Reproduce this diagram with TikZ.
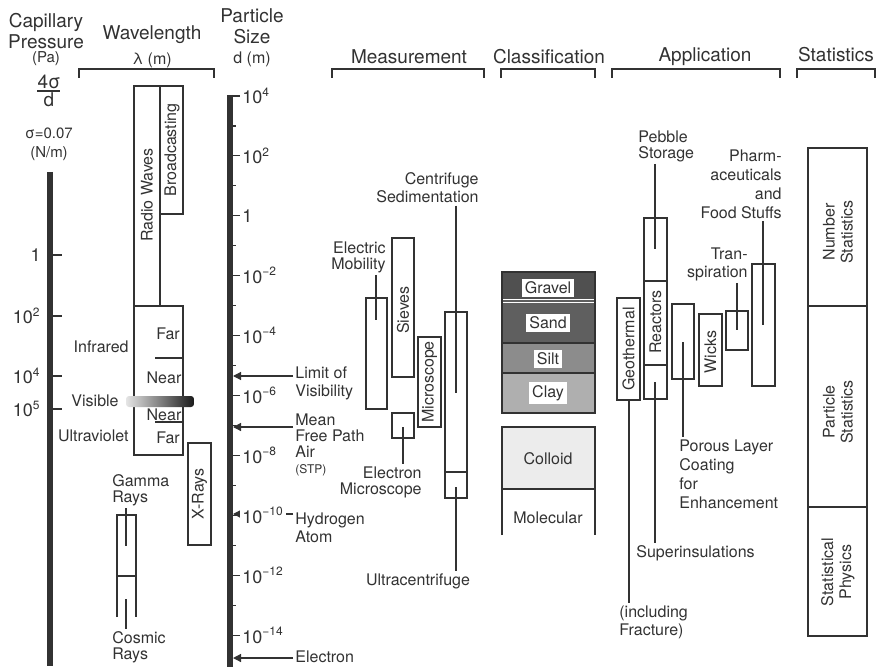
\documentclass[tikz,border=0pt]{standalone}
\usepackage{fontspec}
\setmainfont{TeX Gyre Heros}
\usetikzlibrary{arrows.meta,positioning,calc}
\definecolor{inkgray}{RGB}{50,50,50}
\definecolor{gravelgray}{RGB}{80,80,80}
\definecolor{sandgray}{RGB}{95,95,95}
\definecolor{siltgray}{RGB}{140,140,140}
\definecolor{claygray}{RGB}{175,175,175}
\definecolor{colloidgray}{RGB}{236,236,236}

\tikzset{
  lbl/.style={font=\fontsize{8}{9}\selectfont, inner sep=1pt, align=center, text=inkgray},
  tight/.style={lbl, font=\fontsize{8}{8}\selectfont},
  head/.style={lbl, font=\fontsize{9.5}{10.5}\selectfont},
  small/.style={lbl, font=\fontsize{7.5}{9.5}\selectfont},
  tick/.style={lbl, font=\fontsize{9}{10}\selectfont},
  bx/.style={draw=inkgray, line width=0.6pt},
  ptr/.style={draw=inkgray, line width=0.6pt, -{Triangle[length=4pt,width=4pt]}},
  brk/.style={draw=inkgray, line width=0.7pt},
  axis/.style={draw=inkgray, line width=2.6pt},
}

\begin{document}
\begin{tikzpicture}[x=0.5pt,y=-0.5pt]
\useasboundingbox (0,0) rectangle (882,668);

% column heads
\node[head] (hcap) at (46,31) {Capillary\\Pressure};
\node[small] (hpa) at (46,59) {(Pa)};
\node[head] (hwave) at (152,35) {Wavelength};
\node[lbl] (hlam) at (152,60) {λ (m)};
\node[head] (hsize) at (252,26) {Particle\\Size};
\node[lbl] (hdm) at (252,59) {d (m)};
\node[head] (hmeas) at (409,57) {Measurement};
\node[head] (hclass) at (549,57) {Classification};
\node[head] (happ) at (705,57) {Application};
\node[head] (hstat) at (836,55) {Statistics};
\foreach \a/\b in {79/214,332/484,501/595,612/780,797/875}
  \draw[brk] (\a,78) -- (\a,69) -- (\b,69) -- (\b,78);

% capillary pressure scale
\node[head] (fnum) at (49,82) {4σ};
\draw[brk] (37,91) -- (60,91);
\node[head] (fden) at (49,100) {d};
\node[small] (sigma) at (49,144) {σ=0.07\\(N/m)};
\draw[axis] (50,172) -- (50,666);
\foreach \y/\t in {255/1,316/10\textsuperscript{2},376/10\textsuperscript{4},409/10\textsuperscript{5}}{
  \draw[bx] (50,\y) -- (62,\y);
  \node[tick, anchor=east] (p\y) at (43,\y) {\t};
}

% pointers to particle size scale
\node[lbl, align=left, anchor=west] (limvis) at (293,383) {Limit of\\Visibility};
\coordinate (limtip) at (233,376);
\draw[ptr] (limtip -| limvis.west) -- (limtip);
\node[tight, align=left, anchor=west] (mfp) at (293,445) {Mean\\Free Path\\Air\\{\fontsize{6}{7}\selectfont(STP)}};
\coordinate (mfptip) at (233,427);
\draw[ptr] (mfptip -| mfp.west) -- (mfptip);
\node[lbl, align=left, anchor=west] (hyd) at (293,528) {Hydrogen\\Atom};
\coordinate (hydtip) at (233,514);
\draw[ptr] (hydtip -| hyd.west) -- (hydtip);
\node[lbl, anchor=west] (elec) at (293,657) {Electron};
\coordinate (electip) at (233,658);
\draw[ptr] (electip -| elec.west) -- (electip);

% particle size scale
\draw[axis] (230,95) -- (230,667);
\foreach \k in {0,...,8}{
  \pgfmathsetmacro\yy{126+59.9*\k}
  \draw[bx] (230,\yy) -- (236,\yy);
}
\foreach \t [count=\k from 0] in {10\textsuperscript{4},10\textsuperscript{2},1,10\textsuperscript{−2},10\textsuperscript{−4},10\textsuperscript{−6},10\textsuperscript{−8},10\textsuperscript{−10},10\textsuperscript{−12},10\textsuperscript{−14}}{
  \pgfmathsetmacro\yy{96+59.9*\k}
  \draw[bx] (230,\yy) -- (240,\yy);
  \node[tick, anchor=west, fill=white] (d\k) at (240,\yy) {\t};
}

% wavelength
\draw[bx] (134,86) rectangle (160,306);
\draw[bx] (160,86) rectangle (183,214);
\node[lbl, rotate=90] (radio) at (147,195) {Radio Waves};
\node[lbl, rotate=90] (bcast) at (172,150) {Broadcasting};
\draw[bx] (134,306) rectangle (183,455);
\draw[bx] (155,358) -- (183,358);
\draw[bx] (155,422) -- (183,422);
\node[lbl] (irfar) at (168,334) {Far};
\node[lbl] (irnear) at (164,378) {Near};
\node[lbl] (uvnear) at (164,415) {Near};
\node[lbl] (uvfar) at (168,438) {Far};
\shade[left color=black!10, middle color=black!55, right color=black!90, rounded corners=1.5pt] (126,396) rectangle (194,407);
\node[lbl, anchor=east] (infra) at (131,347) {Infrared};
\node[lbl, anchor=east] (visib) at (121,401) {Visible};
\node[lbl, anchor=east] (ultra) at (131,436) {Ultraviolet};
\draw[bx] (188,443) rectangle (211,545);
\node[lbl, rotate=90] (xray) at (199.5,494) {X-Rays};
\node[tight, align=left, anchor=west] (gamma) at (110,490) {Gamma\\Rays};
\draw[bx] (117,617) -- (117,515) -- (136,515) -- (136,617);
\draw[bx] (117,576) -- (136,576);
\coordinate (gamend) at (126,546);
\draw[bx] (gamend |- gamma.south) -- (gamend);
\node[tight, align=left, anchor=west] (cosmic) at (110,647) {Cosmic\\Rays};
\coordinate (cosend) at (126,599);
\draw[bx] (cosend) -- (cosend |- cosmic.north);

% measurement
\node[tight, align=right, anchor=east] (emob) at (388,257) {Electric\\Mobility};
\draw[bx] (366,298) rectangle (387,409);
\coordinate (emobend) at (376,320);
\draw[bx] (emobend |- emob.south) -- (emobend);
\draw[bx] (392,238) rectangle (414,377);
\node[lbl, rotate=90] (sieve) at (403,310) {Sieves};
\draw[bx] (392,413) rectangle (414,438);
\node[tight, align=right, anchor=east] (emic) at (424,482) {Electron\\Microscope};
\coordinate (emicend) at (403,427);
\draw[bx] (emicend) -- (emicend |- emic.north);
\draw[bx] (418,337) rectangle (441,427);
\node[lbl, rotate=90] (micro) at (429.5,382) {Microscope};
\draw[bx] (445,312) rectangle (467,498);
\draw[bx] (445,472) -- (467,472);
\node[lbl, align=right, anchor=east] (csed) at (481,188) {Centrifuge\\Sedimentation};
\coordinate (csedend) at (456,393);
\draw[bx] (csedend |- csed.south) -- (csedend);
\node[lbl] (ucent) at (418,581) {Ultracentrifuge};
\coordinate (ucentend) at (456,487);
\draw[bx] (ucentend) -- (ucentend |- ucent.north);

% classification
\fill[gravelgray] (502,272) rectangle (595,299);
\fill[sandgray] (502,299) rectangle (595,343);
\fill[siltgray] (502,343) rectangle (595,373);
\fill[claygray] (502,373) rectangle (595,413);
\draw[white, line width=0.5pt] (502,299.5) -- (595,299.5);
\draw[white, line width=0.5pt] (502,302.5) -- (595,302.5);
\draw[inkgray, line width=0.8pt] (502,343) -- (595,343);
\draw[inkgray, line width=0.8pt] (502,373) -- (595,373);
\draw[inkgray, line width=1.2pt] (502,272) rectangle (595,413);
\node[lbl, fill=white, inner sep=1.5pt] (gravel) at (548,288) {Gravel};
\node[lbl, fill=white, inner sep=1.5pt] (sand) at (548,323) {Sand};
\node[lbl, fill=white, inner sep=1.5pt] (silt) at (548,359) {Silt};
\node[lbl, fill=white, inner sep=1.5pt] (clay) at (548,393) {Clay};
\fill[colloidgray] (502,427) rectangle (595,489);
\draw[inkgray, line width=1.2pt] (502,535) -- (502,427) -- (595,427) -- (595,535);
\draw[bx] (502,489) -- (595,489);
\node[lbl] (colloid) at (548,459) {Colloid};
\node[lbl] (molec) at (548,518) {Molecular};

% application
\draw[bx] (617,298) rectangle (640,400);
\node[lbl, rotate=90] (geo) at (628.5,349) {Geothermal};
\node[lbl, align=left, anchor=west] (fract) at (617,622) {(including\\Fracture)};
\coordinate (geoend) at (629,400);
\draw[bx] (geoend) -- (geoend |- fract.north);
\draw[bx] (644,218) rectangle (667,399);
\draw[bx] (644,281) -- (667,281);
\draw[bx] (644,365) -- (667,365);
\node[lbl, rotate=90] (react) at (655.5,322) {Reactors};
\node[tight, align=left, anchor=west] (pebble) at (636,146) {Pebble\\Storage};
\coordinate (pebend) at (655,249);
\draw[bx] (pebend |- pebble.south) -- (pebend);
\node[lbl, anchor=west] (insul) at (634,553) {Superinsulations};
\coordinate (insulend) at (655,382);
\draw[bx] (insulend) -- (insulend |- insul.north);
\draw[bx] (672,304) rectangle (694,379);
\node[lbl, font=\fontsize{8}{9.5}\selectfont, align=left, anchor=west] (porous) at (677,474) {Porous Layer\\Coating\\for\\Enhancement};
\coordinate (porend) at (683,342);
\draw[bx] (porend) -- (porend |- porous.north);
\draw[bx] (699,314) rectangle (722,386);
\node[lbl, rotate=90] (wicks) at (710.5,352) {Wicks};
\draw[bx] (726,311) rectangle (748,350);
\node[lbl, align=right, anchor=east] (transp) at (750,264) {Tran-\\spiration};
\coordinate (transpend) at (737,330);
\draw[bx] (transpend |- transp.south) -- (transpend);
\draw[bx] (752,264) rectangle (775,386);
\node[lbl, font=\fontsize{8}{9.5}\selectfont, align=right, anchor=east] (pharm) at (784,184) {Pharm-\\aceuticals\\and\\Food Stuffs};
\coordinate (pharmend) at (763,325);
\draw[bx] (pharmend |- pharm.south) -- (pharmend);

% statistics
\draw[bx] (808,148) rectangle (867,636);
\draw[bx] (808,306) -- (867,306);
\draw[bx] (808,507) -- (867,507);
\node[lbl, rotate=90] (numst) at (838,232) {Number\\Statistics};
\node[lbl, rotate=90] (partst) at (838,412) {Particle\\Statistics};
\node[lbl, rotate=90] (statph) at (838,572) {Statistical\\Physics};
\end{tikzpicture}
\end{document}
